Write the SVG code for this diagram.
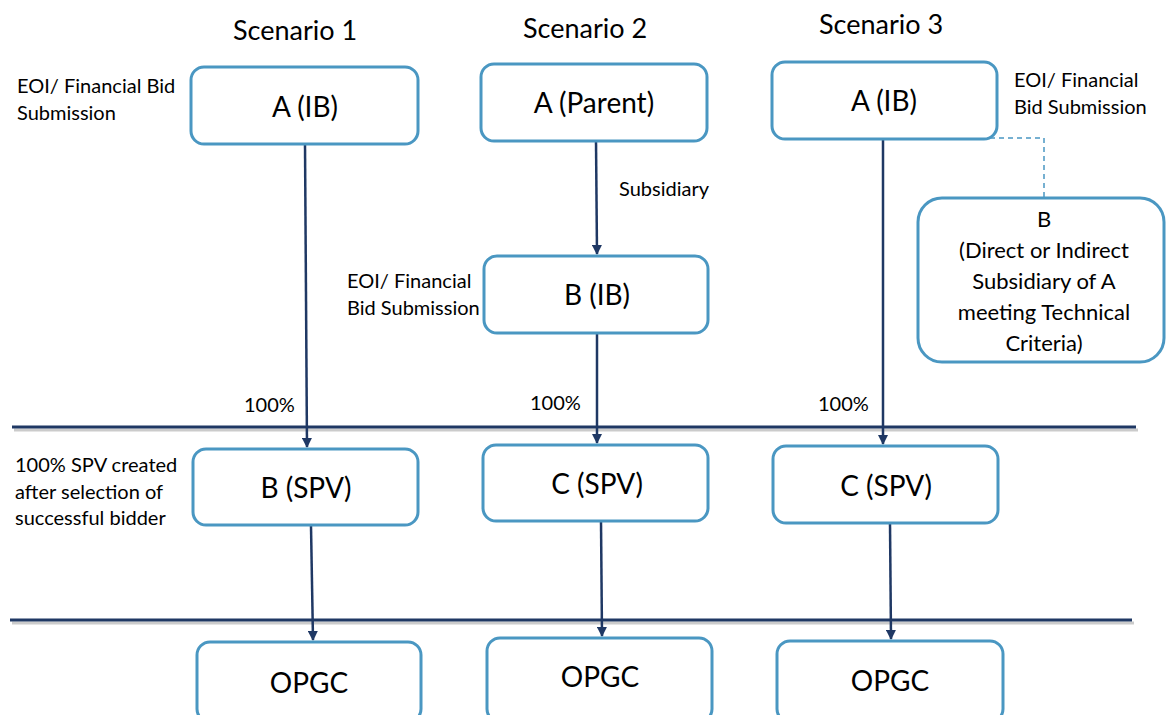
<svg xmlns="http://www.w3.org/2000/svg" width="1166" height="715" viewBox="0 0 1166 715">
<defs>
<marker id="ah" viewBox="0 0 10 10" refX="9" refY="5" markerWidth="4" markerHeight="4" orient="auto" markerUnits="strokeWidth"><path d="M0,0 L10,5 L0,10 z" fill="#1F3864"/></marker>
</defs>
<style>
text{font-family:Lato,"Open Sans","Liberation Sans",sans-serif;fill:#000}
.t{font-size:27px;text-anchor:middle}
.n{font-size:28px;text-anchor:middle}
.s{font-size:20px}
.m{font-size:22px;text-anchor:middle}
.box{fill:#fff;stroke:#4A97C2;stroke-width:3}
.c{stroke:#1F3864;stroke-width:2.5;fill:none;marker-end:url(#ah)}
.hl{stroke:#1F3864;stroke-width:3}
.sh{stroke:#999;stroke-width:3;opacity:0.5}
</style>
<rect width="1166" height="715" fill="#fff"/>
<g id="dividers">
<line class="sh" x1="14" y1="430" x2="1138" y2="430"/>
<line class="hl" x1="12" y1="427" x2="1136" y2="427"/>
<line class="sh" x1="12" y1="623" x2="1134" y2="623"/>
<line class="hl" x1="10" y1="620" x2="1132" y2="620"/>
</g>
<g id="titles">
<text class="t" x="295" y="40">Scenario 1</text>
<text class="t" x="585" y="38">Scenario 2</text>
<text class="t" x="881" y="34">Scenario 3</text>
</g>
<g id="labels">
<text class="s" x="17" y="93">EOI/ Financial Bid</text>
<text class="s" x="17" y="120">Submission</text>
<text class="s" x="1014" y="87">EOI/ Financial</text>
<text class="s" x="1014" y="114">Bid Submission</text>
<text class="s" x="619" y="196">Subsidiary</text>
<text class="s" x="347" y="288">EOI/ Financial</text>
<text class="s" x="347" y="315">Bid Submission</text>
<text class="s" x="244" y="412">100%</text>
<text class="s" x="530" y="410">100%</text>
<text class="s" x="818" y="411">100%</text>
<text class="s" x="15" y="472">100% SPV created</text>
<text class="s" x="15" y="499">after selection of</text>
<text class="s" x="15" y="525">successful bidder</text>
</g>
<g id="connectors">
<line class="c" x1="305" y1="144" x2="307" y2="447"/>
<line class="c" x1="311" y1="526" x2="313" y2="640"/>
<line class="c" x1="596" y1="141" x2="597" y2="254"/>
<line class="c" x1="597" y1="333" x2="597" y2="443"/>
<line class="c" x1="601" y1="521" x2="602" y2="636"/>
<line class="c" x1="883" y1="139" x2="883" y2="444"/>
<line class="c" x1="890" y1="523" x2="891" y2="639"/>
<path d="M990,138 H1044 V197" fill="none" stroke="#4A97C2" stroke-width="1.5" stroke-dasharray="5,4"/>
</g>
<g id="s1-a"><rect class="box" x="191" y="67" width="227" height="77" rx="13"/><text class="n" x="305" y="117">A (IB)</text></g>
<g id="s2-a"><rect class="box" x="481" y="64" width="226" height="77" rx="13"/><text class="n" x="594" y="113">A (Parent)</text></g>
<g id="s2-b"><rect class="box" x="484" y="256" width="224" height="77" rx="13"/><text class="n" x="597" y="305">B (IB)</text></g>
<g id="s3-a"><rect class="box" x="772" y="62" width="225" height="77" rx="13"/><text class="n" x="884" y="111">A (IB)</text></g>
<g id="s3-b"><rect class="box" x="918" y="198" width="246" height="164" rx="24"/>
<text class="m" x="1044" y="227">B</text>
<text class="m" x="1044" y="258">(Direct or Indirect</text>
<text class="m" x="1044" y="289">Subsidiary of A</text>
<text class="m" x="1044" y="320">meeting Technical</text>
<text class="m" x="1044" y="351">Criteria)</text></g>
<g id="s1-spv"><rect class="box" x="193" y="449" width="225" height="76" rx="13"/><text class="n" x="306" y="498">B (SPV)</text></g>
<g id="s2-spv"><rect class="box" x="483" y="445" width="225" height="76" rx="13"/><text class="n" x="597" y="494">C (SPV)</text></g>
<g id="s3-spv"><rect class="box" x="773" y="446" width="225" height="77" rx="13"/><text class="n" x="886" y="496">C (SPV)</text></g>
<g id="s1-opgc"><rect class="box" x="197" y="642" width="224" height="80" rx="13"/><text class="n" x="309" y="693">OPGC</text></g>
<g id="s2-opgc"><rect class="box" x="487" y="638" width="225" height="84" rx="13"/><text class="n" x="600" y="687">OPGC</text></g>
<g id="s3-opgc"><rect class="box" x="777" y="641" width="226" height="81" rx="13"/><text class="n" x="890" y="691">OPGC</text></g>
</svg>
